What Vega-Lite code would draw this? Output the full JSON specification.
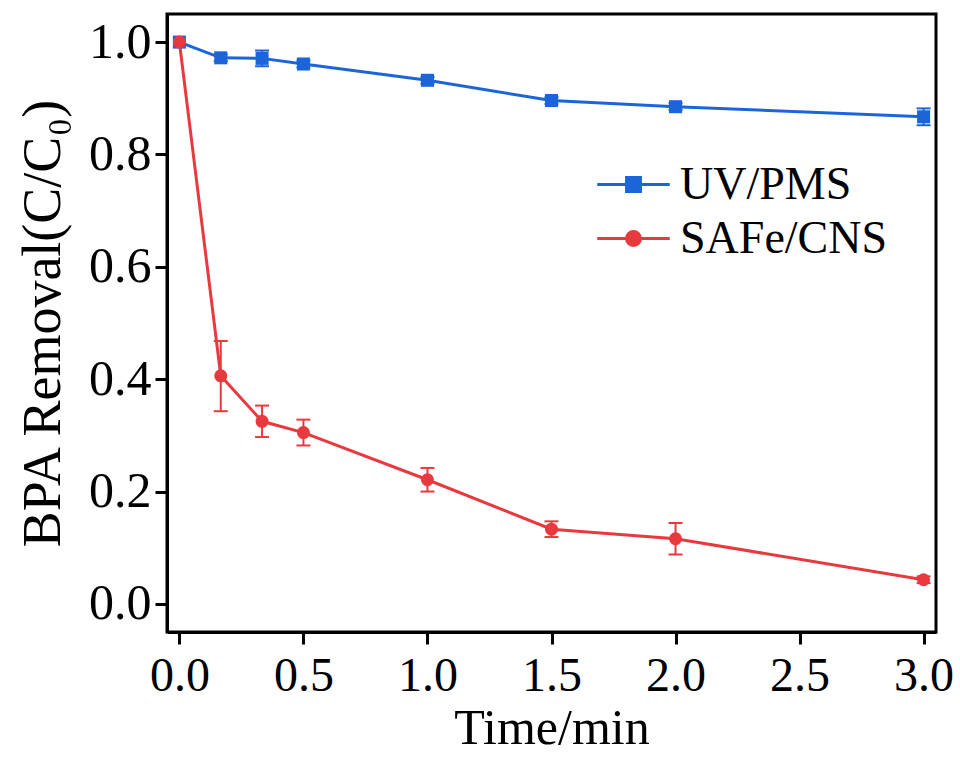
{
  "$schema": "https://vega.github.io/schema/vega-lite/v6.json",
  "width": 769,
  "height": 618,
  "autosize": {"type": "none"},
  "padding": {"left": 167, "top": 14, "right": 24, "bottom": 126},
  "background": "white",
  "config": {
    "view": {"stroke": "black", "strokeWidth": 3},
    "font": "Liberation Serif",
    "axis": {
      "grid": false,
      "domainColor": "black",
      "domainWidth": 3,
      "tickColor": "black",
      "tickWidth": 3,
      "tickSize": 12,
      "labelFont": "Liberation Serif",
      "labelFontSize": 50,
      "labelColor": "black",
      "titleFont": "Liberation Serif",
      "titleFontSize": 54,
      "titleFontWeight": "normal",
      "titleColor": "black"
    }
  },
  "data": {
    "values": [
      {"series": "UV/PMS", "t": 0, "c": 1.0, "lo": null, "hi": null},
      {"series": "UV/PMS", "t": 0.1667, "c": 0.972, "lo": 0.966, "hi": 0.978},
      {"series": "UV/PMS", "t": 0.3333, "c": 0.971, "lo": 0.957, "hi": 0.985},
      {"series": "UV/PMS", "t": 0.5, "c": 0.961, "lo": 0.955, "hi": 0.967},
      {"series": "UV/PMS", "t": 1.0, "c": 0.932, "lo": 0.926, "hi": 0.938},
      {"series": "UV/PMS", "t": 1.5, "c": 0.896, "lo": 0.89, "hi": 0.902},
      {"series": "UV/PMS", "t": 2.0, "c": 0.885, "lo": 0.879, "hi": 0.891},
      {"series": "UV/PMS", "t": 3.0, "c": 0.867, "lo": 0.852, "hi": 0.882},
      {"series": "SAFe/CNS", "t": 0, "c": 1.0, "lo": null, "hi": null},
      {"series": "SAFe/CNS", "t": 0.1667, "c": 0.406, "lo": 0.343, "hi": 0.468},
      {"series": "SAFe/CNS", "t": 0.3333, "c": 0.325, "lo": 0.297, "hi": 0.353},
      {"series": "SAFe/CNS", "t": 0.5, "c": 0.305, "lo": 0.282, "hi": 0.328},
      {"series": "SAFe/CNS", "t": 1.0, "c": 0.221, "lo": 0.2, "hi": 0.242},
      {"series": "SAFe/CNS", "t": 1.5, "c": 0.133, "lo": 0.119, "hi": 0.147},
      {"series": "SAFe/CNS", "t": 2.0, "c": 0.116, "lo": 0.088, "hi": 0.144},
      {"series": "SAFe/CNS", "t": 3.0, "c": 0.043, "lo": 0.037, "hi": 0.049}
    ]
  },
  "encoding": {
    "x": {
      "field": "t", "type": "quantitative",
      "scale": {"domain": [-0.05, 3.05], "nice": false, "zero": false},
      "axis": {"values": [0, 0.5, 1, 1.5, 2, 2.5, 3], "format": ".1f", "title": "Time/min", "labelFontSize": 48, "labelPadding": 8, "titlePadding": 3, "titleFontSize": 50}
    },
    "color": {
      "field": "series", "type": "nominal",
      "scale": {"domain": ["UV/PMS", "SAFe/CNS"], "range": ["#1c65d8", "#e8393f"]}
    }
  },
  "layer": [
    {
      "mark": {"type": "line", "strokeWidth": 3},
      "encoding": {
        "y": {
          "field": "c", "type": "quantitative",
          "scale": {"domain": [-0.05, 1.05], "nice": false, "zero": false},
          "axis": {"values": [0, 0.2, 0.4, 0.6, 0.8, 1.0], "format": ".1f", "title": "BPA Removal(C/C₀)", "labelPadding": 4, "titlePadding": 18}
        },
        "color": {
          "field": "series", "type": "nominal",
          "legend": {
            "orient": "none",
            "legendX": 436,
            "legendY": 140,
            "title": null,
            "padding": 0,
            "rowPadding": 0,
            "labelFont": "Liberation Serif",
            "labelFontSize": 46,
            "labelColor": "black",
            "labelLimit": 500,
            "labelOffset": 16,
            "symbolSize": 3364,
            "symbolType": "M-1.2,0H1.2",
            "symbolStrokeWidth": 3,
            "encode": {
              "symbols": {
                "update": {
                  "shape": {"signal": "datum.value === 'UV/PMS' ? 'M-1.25,0H1.25M-0.24,-0.24H0.24V0.24H-0.24Z' : 'M-1.25,0H1.25M0.24,0A0.24,0.24,0,1,1,-0.24,0A0.24,0.24,0,1,1,0.24,0Z'"},
                  "fill": {"scale": "color", "field": "value"},
                  "stroke": {"scale": "color", "field": "value"},
                  "strokeWidth": {"value": 3},
                  "opacity": {"value": 1},
                  "fillOpacity": {"value": 1}
                }
              }
            }
          }
        }
      }
    },
    {
      "transform": [{"filter": "isValid(datum.lo)"}],
      "mark": {"type": "rule", "strokeWidth": 2},
      "encoding": {
        "y": {"field": "lo", "type": "quantitative"},
        "y2": {"field": "hi"}
      }
    },
    {
      "transform": [{"filter": "isValid(datum.lo)"}],
      "mark": {"type": "tick", "orient": "horizontal", "size": 14, "thickness": 2, "opacity": 1},
      "encoding": {"y": {"field": "lo", "type": "quantitative"}}
    },
    {
      "transform": [{"filter": "isValid(datum.hi)"}],
      "mark": {"type": "tick", "orient": "horizontal", "size": 14, "thickness": 2, "opacity": 1},
      "encoding": {"y": {"field": "hi", "type": "quantitative"}}
    },
    {
      "transform": [{"filter": "datum.series === 'UV/PMS'"}],
      "mark": {"type": "point", "shape": "square", "filled": true, "opacity": 1, "size": 170},
      "encoding": {"y": {"field": "c", "type": "quantitative"}}
    },
    {
      "transform": [{"filter": "datum.series === 'SAFe/CNS'"}],
      "mark": {"type": "point", "shape": "circle", "filled": true, "opacity": 1, "size": 170},
      "encoding": {"y": {"field": "c", "type": "quantitative"}}
    }
  ]
}
